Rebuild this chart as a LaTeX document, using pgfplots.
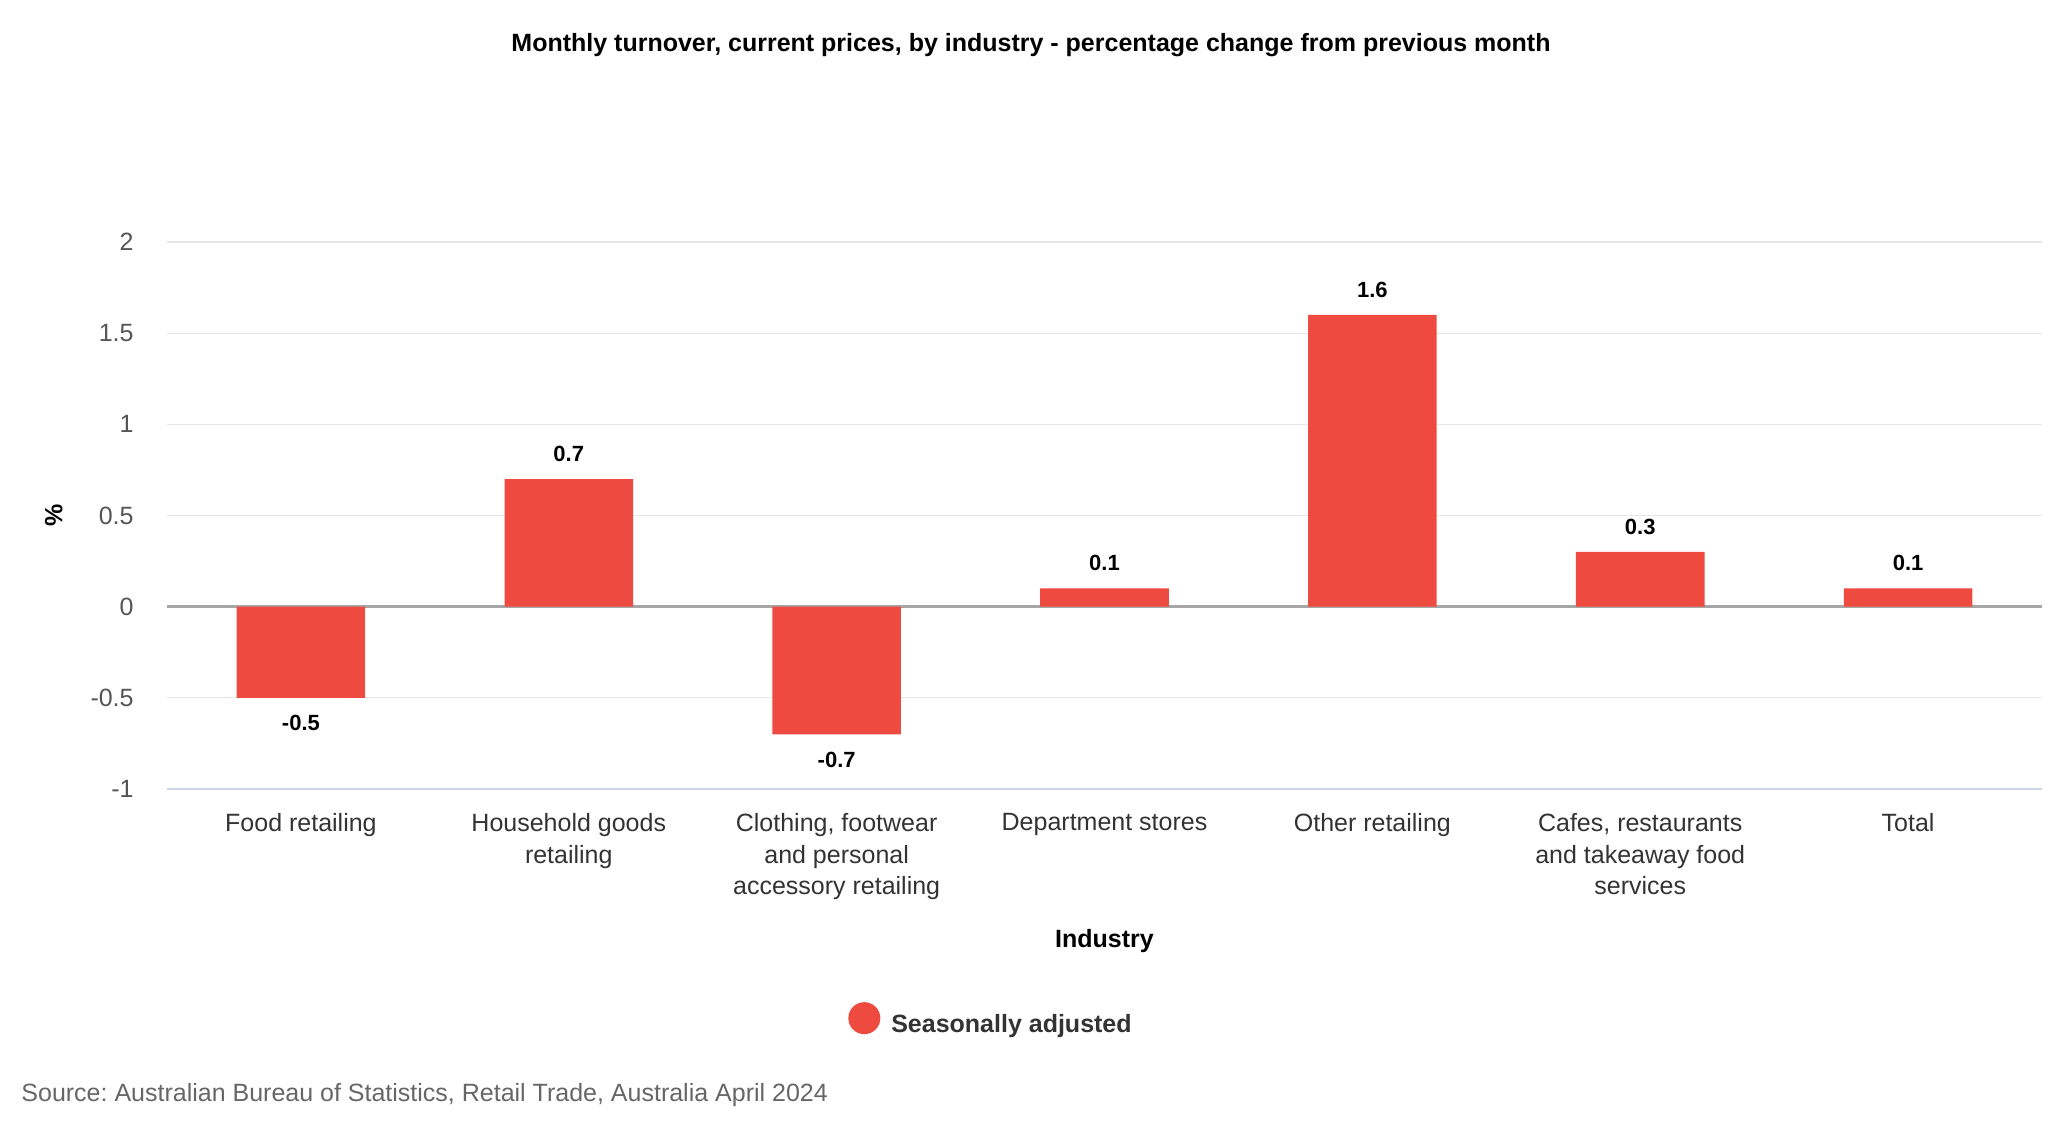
\documentclass[border=0pt]{standalone}
\usepackage{pgfplots}
\pgfplotsset{compat=1.18}
\usepackage{fontspec}
\setmainfont{Liberation Sans}
\frenchspacing
\definecolor{barred}{HTML}{EF4A40}
\definecolor{gridgray}{HTML}{E6E6E6}
\definecolor{zerogray}{HTML}{A6A6A6}
\definecolor{axisblue}{HTML}{CCD6EB}
\definecolor{labgray}{HTML}{555555}
\definecolor{txt}{HTML}{333333}
\definecolor{srcgray}{HTML}{666666}
\begin{document}
\begin{tikzpicture}
\useasboundingbox (0,0) rectangle (1031.5bp,573bp);
\node[font=\fontsize{12.5bp}{15bp}\selectfont\bfseries, text=black] at (515.5bp,550.2bp) {Monthly turnover, current prices, by industry - percentage change from previous month};
\begin{axis}[
  at={(83.5bp,178.5bp)}, anchor=south west,
  width=937.5bp, height=273.5bp, scale only axis,
  xmin=-0.5, xmax=6.5, ymin=-1, ymax=2,
  xtick={0,...,6},
  xticklabels={Food retailing, {Household goods\\retailing}, {Clothing, footwear\\and personal\\accessory retailing}, Department stores, Other retailing, {Cafes, restaurants\\and takeaway food\\services}, Total},
  ytick={-1,-0.5,0,0.5,1,1.5,2},
  yticklabels={-1,-0.5,0,0.5,1,1.5,2},
  major tick length=0pt,
  axis line style={draw=none},
  ymajorgrids, grid style={color=gridgray, line width=0.6bp},
  xticklabel style={font=\fontsize{12.5bp}{15.8bp}\selectfont, text=txt, align=center, inner sep=0pt, anchor=north, yshift=-12bp},
  yticklabel style={font=\fontsize{12.5bp}{15bp}\selectfont, text=labgray, inner sep=0pt, anchor=east, xshift=-16.5bp},
  ylabel={\bfseries\%}, ylabel style={font=\fontsize{12.5bp}{15bp}\selectfont, yshift=10.5bp},
  xlabel={\bfseries Industry}, xlabel style={font=\fontsize{12.5bp}{15bp}\selectfont, yshift=-11.4bp},
  clip=false,
  ybar, bar width=0.48, bar shift=0pt,
  nodes near coords,
  nodes near coords style={font=\fontsize{11bp}{13bp}\selectfont\bfseries, text=black, inner sep=8.5bp, /pgf/number format/assume math mode=true, /pgf/number format/fixed, /pgf/number format/precision=1},
  legend style={at={(0.44,-0.424)}, anchor=center, draw=none, font=\fontsize{12.5bp}{15bp}\selectfont\bfseries, text=txt, legend cell align=left},
  legend image code/.code={\fill[barred] (0.25em,0.35em) circle (8bp); \path (0.25em+11.5bp,0.35em);},
]
\draw[color=zerogray, line width=1.6bp] (axis cs:-0.5,0) -- (axis cs:6.5,0);
\draw[color=axisblue, line width=0.8bp] (axis cs:-0.5,-1) -- (axis cs:6.5,-1);
\addplot[fill=barred, draw=none] coordinates {(0,-0.5) (1,0.7) (2,-0.7) (3,0.1) (4,1.6) (5,0.3) (6,0.1)};
\addlegendentry{Seasonally adjusted}
\end{axis}
\node[font=\fontsize{12.5bp}{15bp}\selectfont, text=srcgray, anchor=west] at (7.2bp,25.5bp) {Source: Australian Bureau of Statistics, Retail Trade, Australia April 2024};
\end{tikzpicture}
\end{document}
